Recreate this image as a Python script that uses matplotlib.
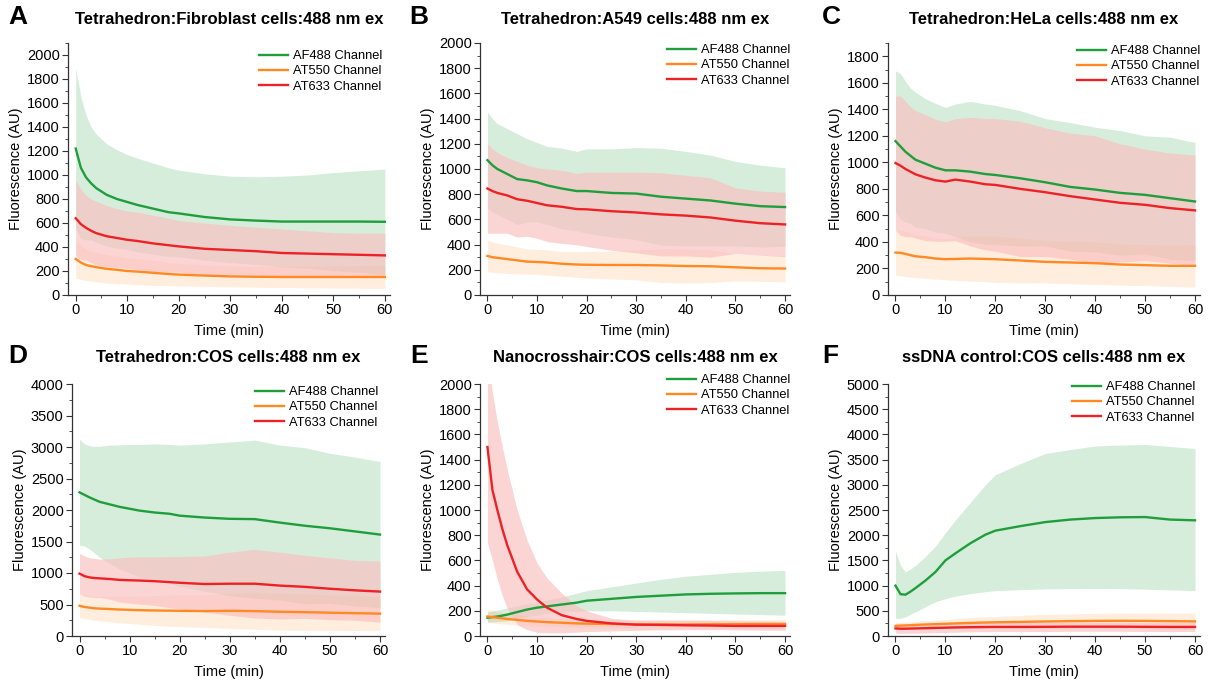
import matplotlib
matplotlib.use('Agg')
from matplotlib import pyplot as plt
from matplotlib.ticker import MultipleLocator

plt.rcParams['font.family'] = ['Liberation Sans', 'DejaVu Sans']

# time points (min)
TIME = [0, 1, 2, 3, 4, 6, 8, 10, 12, 15, 18, 20, 25, 30, 35, 40, 45, 50, 55, 60]

# --- A: Fibroblast ---
a_g = [1220, 1060, 980, 930, 890, 835, 800, 775, 750, 720, 690, 680, 650, 630, 620, 612, 612, 612, 612, 610]
a_g_hi = [1890, 1650, 1500, 1400, 1340, 1260, 1210, 1170, 1140, 1100, 1060, 1040, 1010, 990, 985, 990, 1000, 1020, 1035, 1050]
a_g_lo = [550, 470, 460, 460, 440, 410, 390, 380, 360, 340, 320, 320, 290, 270, 255, 234, 224, 204, 189, 170]
a_o = [300, 270, 250, 240, 232, 218, 210, 200, 195, 185, 175, 170, 162, 155, 152, 150, 150, 150, 150, 150]
a_o_hi = [460, 410, 380, 365, 354, 336, 325, 310, 305, 290, 272, 264, 252, 242, 239, 238, 240, 242, 244, 245]
a_o_lo = [140, 130, 120, 115, 110, 100, 95, 90, 85, 80, 78, 76, 72, 68, 65, 62, 60, 58, 56, 55]
a_r = [640, 590, 560, 535, 515, 490, 475, 460, 450, 430, 415, 405, 385, 375, 365, 350, 345, 340, 335, 330]
a_r_hi = [960, 880, 830, 800, 780, 745, 720, 700, 690, 665, 640, 620, 600, 580, 565, 550, 535, 520, 515, 515]
a_r_lo = [320, 300, 290, 270, 250, 235, 230, 220, 210, 195, 190, 190, 170, 170, 165, 150, 155, 160, 155, 145]

# --- B: A549 ---
b_g = [1070, 1030, 1000, 980, 960, 920, 910, 895, 870, 845, 825, 825, 810, 805, 780, 765, 750, 725, 705, 698]
b_g_hi = [1450, 1400, 1360, 1340, 1320, 1280, 1240, 1210, 1180, 1165, 1140, 1160, 1160, 1170, 1165, 1140, 1110, 1060, 1030, 1010]
b_g_lo = [690, 660, 640, 620, 600, 560, 580, 580, 560, 525, 510, 490, 460, 440, 395, 390, 390, 390, 380, 386]
b_o = [310, 300, 295, 290, 285, 275, 265, 262, 258, 248, 242, 240, 238, 238, 235, 230, 228, 220, 212, 210]
b_o_hi = [435, 420, 412, 405, 398, 382, 365, 362, 358, 346, 344, 345, 348, 356, 370, 365, 358, 328, 316, 315]
b_o_lo = [185, 180, 178, 175, 172, 168, 165, 162, 158, 150, 140, 135, 128, 120, 100, 95, 98, 112, 108, 105]
b_r = [845, 825, 810, 800, 790, 760, 748, 730, 712, 700, 682, 680, 665, 655, 640, 630, 615, 590, 570, 560]
b_r_hi = [1200, 1160, 1130, 1110, 1090, 1060, 1030, 1010, 1000, 990, 965, 975, 975, 975, 970, 950, 930, 850, 825, 815]
b_r_lo = [490, 490, 490, 490, 490, 460, 466, 450, 424, 410, 399, 385, 355, 335, 310, 310, 300, 330, 315, 305]

# --- C: HeLa ---
c_g = [1160, 1120, 1080, 1050, 1020, 990, 960, 940, 940, 930, 912, 905, 880, 850, 815, 795, 770, 755, 730, 705]
c_g_hi = [1690, 1670, 1610, 1560, 1530, 1480, 1445, 1415, 1440, 1460, 1440, 1430, 1390, 1330, 1300, 1265, 1240, 1200, 1190, 1150]
c_g_lo = [630, 570, 550, 540, 510, 500, 475, 465, 440, 400, 384, 380, 370, 370, 330, 325, 300, 310, 270, 260]
c_o = [320, 318, 310, 300, 292, 285, 275, 270, 272, 275, 272, 270, 260, 250, 245, 240, 230, 225, 220, 220]
c_o_hi = [490, 491, 480, 465, 454, 445, 430, 425, 434, 445, 444, 445, 428, 410, 405, 400, 385, 380, 375, 380]
c_o_lo = [150, 145, 140, 135, 130, 125, 120, 115, 110, 105, 100, 95, 92, 90, 85, 80, 75, 70, 65, 60]
c_r = [995, 975, 950, 930, 910, 885, 865, 855, 870, 855, 835, 830, 800, 775, 745, 720, 695, 680, 655, 638]
c_r_hi = [1500, 1500, 1460, 1420, 1390, 1360, 1325, 1305, 1330, 1340, 1330, 1330, 1310, 1260, 1220, 1200, 1140, 1100, 1070, 1055]
c_r_lo = [490, 450, 440, 440, 430, 410, 405, 405, 410, 370, 340, 330, 290, 290, 270, 240, 250, 260, 240, 221]

# --- D: COS ---
d_g = [2280, 2240, 2200, 2165, 2130, 2090, 2050, 2020, 1990, 1960, 1940, 1910, 1880, 1860, 1855, 1800, 1750, 1710, 1660, 1610]
d_g_hi = [3120, 3050, 3020, 3010, 3010, 3030, 3035, 3040, 3040, 3050, 3040, 3030, 3050, 3080, 3110, 3030, 2990, 2900, 2840, 2770]
d_g_lo = [1440, 1430, 1380, 1320, 1250, 1150, 1065, 1000, 940, 870, 840, 790, 710, 640, 600, 570, 510, 520, 480, 450]
d_o = [480, 460, 450, 440, 435, 428, 420, 415, 410, 405, 402, 400, 395, 400, 395, 385, 378, 370, 362, 355]
d_o_hi = [670, 645, 635, 630, 630, 631, 630, 630, 635, 640, 649, 650, 655, 680, 685, 675, 666, 650, 636, 625]
d_o_lo = [290, 275, 265, 250, 240, 225, 210, 200, 185, 170, 155, 150, 135, 120, 105, 95, 90, 90, 88, 85]
d_r = [990, 950, 930, 920, 915, 905, 890, 885, 880, 870, 855, 845, 825, 830, 830, 800, 780, 750, 725, 705]
d_r_hi = [1310, 1270, 1240, 1230, 1220, 1225, 1240, 1250, 1255, 1255, 1260, 1260, 1270, 1330, 1375, 1330, 1280, 1240, 1200, 1190]
d_r_lo = [670, 630, 620, 610, 610, 585, 540, 520, 505, 485, 450, 430, 380, 330, 285, 270, 280, 260, 250, 220]

# --- E: Nanocrosshair COS ---
e_g = [145, 150, 155, 162, 170, 190, 210, 225, 235, 250, 265, 280, 295, 310, 320, 330, 335, 338, 340, 340]
e_g_hi = [190, 200, 205, 215, 222, 240, 255, 265, 285, 310, 340, 360, 390, 420, 450, 475, 490, 505, 515, 520]
e_g_lo = [110, 112, 115, 117, 120, 140, 155, 165, 180, 190, 195, 200, 200, 195, 190, 185, 180, 175, 170, 165]
e_o = [155, 150, 145, 140, 135, 128, 120, 115, 110, 105, 100, 98, 95, 92, 92, 92, 93, 94, 95, 95]
e_o_hi = [210, 200, 192, 185, 178, 168, 158, 152, 145, 140, 135, 132, 130, 128, 128, 128, 130, 130, 130, 130]
e_o_lo = [110, 105, 100, 96, 92, 88, 82, 78, 75, 72, 68, 66, 64, 62, 62, 62, 62, 62, 62, 62]
e_r = [1500, 1160, 1000, 850, 720, 510, 370, 290, 225, 165, 135, 120, 100, 90, 88, 85, 83, 80, 80, 80]
e_r_hi = [2250, 1930, 1700, 1500, 1320, 1000, 760, 580, 460, 340, 240, 200, 140, 125, 125, 125, 122, 120, 118, 115]
e_r_lo = [740, 600, 450, 320, 220, 90, 50, 30, 25, 25, 30, 35, 40, 45, 48, 50, 50, 48, 46, 45]

# --- F: ssDNA control COS ---
f_g = [1000, 830, 820, 880, 950, 1100, 1270, 1500, 1640, 1840, 2010, 2090, 2180, 2260, 2310, 2340, 2355, 2360, 2310, 2295]
f_g_hi = [1680, 1400, 1270, 1330, 1400, 1580, 1780, 2050, 2300, 2650, 3000, 3200, 3420, 3620, 3700, 3770, 3790, 3800, 3760, 3720]
f_g_lo = [350, 350, 380, 430, 480, 580, 680, 740, 790, 840, 880, 900, 920, 935, 940, 945, 940, 930, 915, 900]
f_o = [200, 205, 210, 215, 220, 228, 235, 242, 250, 260, 268, 272, 280, 288, 295, 300, 302, 300, 295, 290]
f_o_hi = [260, 265, 270, 278, 285, 300, 315, 330, 345, 365, 380, 390, 410, 430, 440, 450, 455, 455, 455, 455]
f_o_lo = [140, 145, 150, 152, 155, 156, 155, 154, 155, 155, 156, 154, 150, 146, 150, 150, 149, 145, 135, 125]
f_r = [150, 145, 145, 148, 150, 155, 160, 165, 170, 175, 178, 180, 180, 182, 185, 185, 185, 182, 180, 180]
f_r_hi = [240, 240, 235, 240, 245, 250, 255, 260, 265, 268, 270, 270, 272, 275, 276, 276, 276, 274, 272, 270]
f_r_lo = [60, 50, 55, 56, 55, 60, 65, 70, 75, 82, 86, 90, 88, 89, 94, 94, 94, 90, 88, 90]

CHANNELS = ['AF488 Channel', 'AT550 Channel', 'AT633 Channel']
LINE_COLORS = ['#1f9e3c', '#ff8a24', '#ec2226']
# band colour, alpha (red band is drawn last and sits on top)
BAND_STYLE = [('#1f9e3c', 0.18), ('#ff8a24', 0.15), ('#fabebe', 0.65)]

panels = [
    ('A', 'Tetrahedron:Fibroblast cells:488 nm ex', 2100, 200,
     [(a_g, a_g_lo, a_g_hi), (a_o, a_o_lo, a_o_hi), (a_r, a_r_lo, a_r_hi)]),
    ('B', 'Tetrahedron:A549 cells:488 nm ex', 2000, 200,
     [(b_g, b_g_lo, b_g_hi), (b_o, b_o_lo, b_o_hi), (b_r, b_r_lo, b_r_hi)]),
    ('C', 'Tetrahedron:HeLa cells:488 nm ex', 1900, 200,
     [(c_g, c_g_lo, c_g_hi), (c_o, c_o_lo, c_o_hi), (c_r, c_r_lo, c_r_hi)]),
    ('D', 'Tetrahedron:COS cells:488 nm ex', 4000, 500,
     [(d_g, d_g_lo, d_g_hi), (d_o, d_o_lo, d_o_hi), (d_r, d_r_lo, d_r_hi)]),
    ('E', 'Nanocrosshair:COS cells:488 nm ex', 2000, 200,
     [(e_g, e_g_lo, e_g_hi), (e_o, e_o_lo, e_o_hi), (e_r, e_r_lo, e_r_hi)]),
    ('F', 'ssDNA control:COS cells:488 nm ex', 5000, 500,
     [(f_g, f_g_lo, f_g_hi), (f_o, f_o_lo, f_o_hi), (f_r, f_r_lo, f_r_hi)]),
]

# layout in pixels: axes box (left, top, right, bottom), panel letter xy, title y, legend anchor (right, top)
boxes = [(68, 43, 390, 295), (480, 43, 790, 295), (888, 43, 1200, 295),
         (72, 384, 385, 636), (480, 384, 790, 636), (888, 384, 1200, 636)]
letter_xy = [(18, 17), (419, 17), (831, 17), (18, 356), (419, 356), (830, 356)]
title_y = [20, 20, 20, 357, 357, 357]
leg_xy = [(382, 50), (790, 44), (1200, 45), (378, 386), (790, 374), (1195, 381)]

W, H = 1210, 685
fig = plt.figure(figsize=(W / 100, H / 100), dpi=100)

for i, (letter, title, ymax, ystep, series) in enumerate(panels):
    l, t, r, b = boxes[i]
    ax = fig.add_axes([l / W, 1 - b / H, (r - l) / W, (b - t) / H])
    for (m, lo, hi), lc, (bc, ba), lab in zip(series, LINE_COLORS, BAND_STYLE, CHANNELS):
        ax.fill_between(TIME, lo, hi, color=bc, alpha=ba, lw=0)
        ax.plot(TIME, m, color=lc, lw=1.7, label=lab)
    ax.set_xlim(-1.5, 61)
    ax.set_ylim(0, ymax)
    ax.xaxis.set_major_locator(MultipleLocator(10))
    ax.xaxis.set_minor_locator(MultipleLocator(5))
    ax.yaxis.set_major_locator(MultipleLocator(ystep))
    ax.yaxis.set_minor_locator(MultipleLocator(ystep / 2))
    for s in ['top', 'right']:
        ax.spines[s].set_visible(False)
    for s in ['left', 'bottom']:
        ax.spines[s].set_color('#333333')
        ax.spines[s].set_linewidth(0.9)
    ax.tick_params(which='both', direction='out', colors='#333333', labelcolor='black',
                   labelsize=10.5, pad=2)
    ax.tick_params(which='major', length=4)
    ax.tick_params(which='minor', length=2)
    ax.set_xlabel('Time (min)', fontsize=10.5, labelpad=5)
    ax.set_ylabel('Fluorescence (AU)', fontsize=10.5, labelpad=3)

    fig.text((l + r) / 2 / W, 1 - title_y[i] / H, title, fontsize=12, fontweight='bold',
             ha='center', va='center')
    lx, ly = letter_xy[i]
    fig.text(lx / W, 1 - ly / H, letter, fontsize=19, fontweight='bold', ha='center', va='center')

    gx, gy = leg_xy[i]
    ax.legend(loc='upper right', bbox_to_anchor=(gx / W, 1 - gy / H), bbox_transform=fig.transFigure,
              frameon=False, fontsize=9.3, handlelength=2.2, labelspacing=0.25,
              handletextpad=0.4, borderaxespad=0, borderpad=0)

plt.savefig('out.png', dpi=100)
